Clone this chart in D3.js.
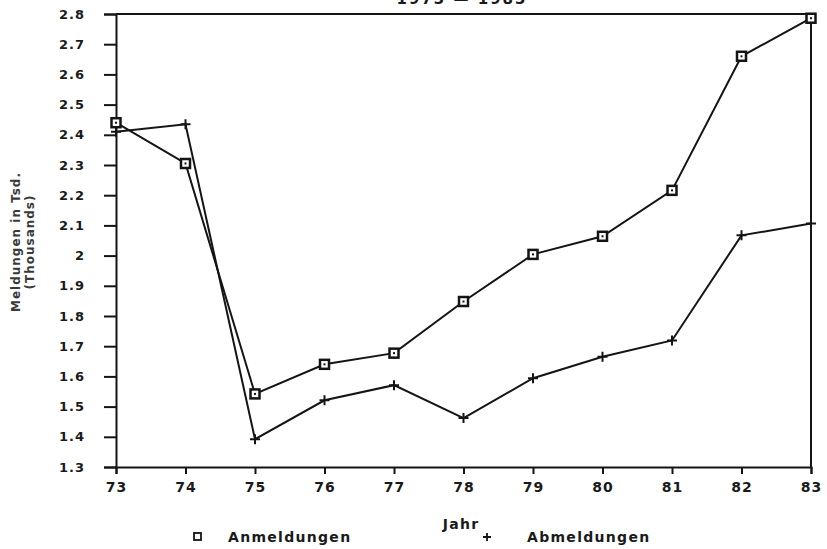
<!DOCTYPE html>
<html>
<head lang="de">
    <meta charset="UTF-8">
    <title></title>
    <script src="https://cdn.jsdelivr.net/npm/d3@7"></script>
    <style>
        body{margin:0;background:#fff;}
        text{font-family:"DejaVu Sans",sans-serif;font-weight:bold;fill:#1a1a1a;}
        .tick text{font-size:13px;letter-spacing:1px;}
        .line{fill:none;stroke:#141414;stroke-width:2px;}
        .lab{font-size:14px;letter-spacing:1.3px;}
    </style>
</head>
<body>
<script>
    // Jahre
    var years=[73,74,75,76,77,78,79,80,81,82,83];
    // Meldungen in Tsd.
    var anmeldungen=[2.44,2.305,1.542,1.64,1.677,1.848,2.004,2.064,2.216,2.66,2.786];
    var abmeldungen=[2.41,2.435,1.392,1.521,1.571,1.462,1.594,1.665,1.719,2.067,2.106];
    var yTicks=[1.3,1.4,1.5,1.6,1.7,1.8,1.9,2,2.1,2.2,2.3,2.4,2.5,2.6,2.7,2.8];

    var W=827,H=549;
    var pLeft=116,pRight=811,pTop=14,pBottom=467;

    var svg=d3.select("body").append("svg")
            .attr("width",W)
            .attr("height",H);

    var x=d3.scaleLinear().domain([73,83]).range([pLeft,pRight]);
    var y=d3.scaleLinear().domain([1.3,2.8]).range([pBottom,pTop]);

    // Rahmen oben und rechts
    svg.append("line").attr("x1",pLeft).attr("x2",pRight).attr("y1",pTop).attr("y2",pTop)
            .style("stroke","#141414").style("stroke-width",2);
    svg.append("line").attr("x1",pRight).attr("x2",pRight).attr("y1",pTop).attr("y2",pBottom)
            .style("stroke","#141414").style("stroke-width",2);

    var gx=svg.append("g")
            .attr("transform","translate(0,"+pBottom+")")
            .call(d3.axisBottom(x).tickValues(years).tickSize(7).tickPadding(6).tickFormat(d3.format("d")));
    var gy=svg.append("g")
            .attr("transform","translate("+pLeft+",0)")
            .call(d3.axisLeft(y).tickValues(yTicks).tickSize(12).tickPadding(19).tickFormat(function(d){return d3.format("")(d);}));
    [gx,gy].forEach(function(g){
        g.select(".domain").style("stroke","#141414").style("stroke-width",2);
        g.selectAll(".tick line").style("stroke","#141414").style("stroke-width",2);
        g.attr("font-family",null).attr("font-size",null);
    });
    gx.selectAll(".tick text").attr("dy","0.85em").style("font-size","14px");

    var line=d3.line()
            .x(function(d,i){return x(years[i]);})
            .y(function(d){return y(d);});

    svg.append("path").datum(anmeldungen).attr("class","line").attr("d",line);
    svg.append("path").datum(abmeldungen).attr("class","line").attr("d",line);

    // Marker: Quadrat mit Punkt
    var sq=svg.append("g").selectAll("g")
            .data(anmeldungen)
            .enter()
            .append("g")
            .attr("transform",function(d,i){return "translate("+x(years[i])+","+y(d)+")";});
    sq.append("rect")
            .attr("x",-4.5).attr("y",-4.5)
            .attr("width",9).attr("height",9)
            .style("fill","#fff").style("stroke","#141414").style("stroke-width",2.5);
    sq.append("rect")
            .attr("x",-1).attr("y",-1)
            .attr("width",2).attr("height",2)
            .style("fill","#141414");
    // Marker: Plus
    svg.append("g").selectAll("path")
            .data(abmeldungen)
            .enter()
            .append("path")
            .attr("d",function(d,i){
                var cx=x(years[i]),cy=y(d);
                return "M"+(cx-5)+","+cy+"H"+(cx+5)+"M"+cx+","+(cy-5)+"V"+(cy+5);
            })
            .style("stroke","#141414").style("stroke-width",2);

    // Titel (oben abgeschnitten)
    svg.append("text").attr("x",462).attr("y",4).attr("text-anchor","middle")
            .style("font-size","15px").style("letter-spacing","2px").text("1973 \u2014 1983");

    // Achsentitel
    svg.append("text").attr("class","lab").attr("x",461).attr("y",529).attr("text-anchor","middle")
            .text("Jahr");
    svg.append("text").attr("transform","translate(20,242) rotate(-90)").attr("text-anchor","middle")
            .style("font-size","12px").style("letter-spacing","1px").style("fill","#3a3a3a").text("Meldungen in Tsd.");
    svg.append("text").attr("transform","translate(34,242) rotate(-90)").attr("text-anchor","middle")
            .style("font-size","12px").style("letter-spacing","1px").style("fill","#3a3a3a").text("(Thousands)");

    // Legende
    svg.append("rect").attr("x",194).attr("y",533).attr("width",7).attr("height",7)
            .style("fill","none").style("stroke","#141414").style("stroke-width",1.8);
    svg.append("text").attr("class","lab").attr("x",228).attr("y",542).text("Anmeldungen");
    svg.append("path").attr("d","M483,537H491M487,533V541").style("stroke","#141414").style("stroke-width",1.8);
    svg.append("text").attr("class","lab").attr("x",527).attr("y",542).text("Abmeldungen");
</script>
</body>
</html>
